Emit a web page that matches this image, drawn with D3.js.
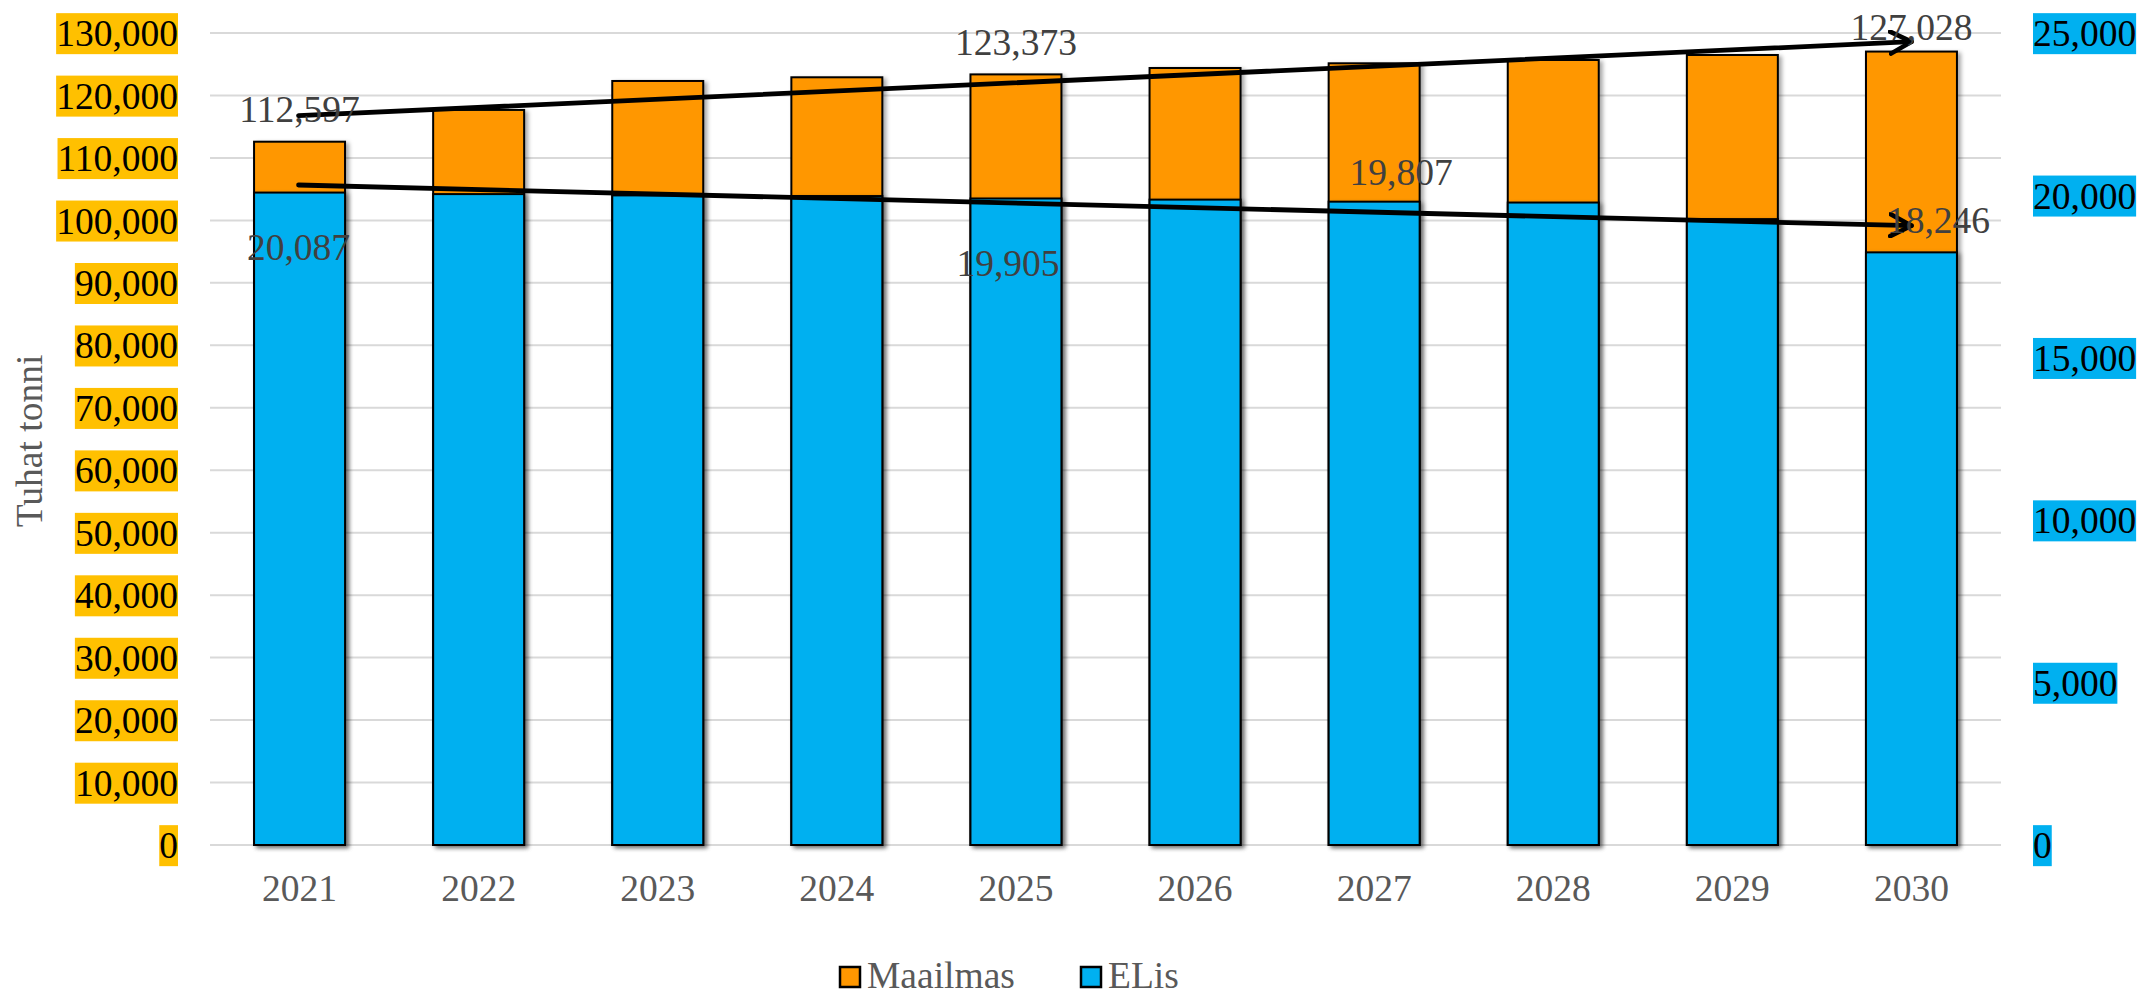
<!DOCTYPE html>
<html>
<head>
<meta charset="utf-8">
<script src="https://cdn.jsdelivr.net/npm/d3@7"></script>
<style>
  html, body { margin: 0; padding: 0; background: #fff; }
  svg { display: block; }
  text { font-family: "Liberation Serif", "Times New Roman", serif; }
</style>
</head>
<body>
<svg id="chart" width="2141" height="994"></svg>
<script>
// ---- DATA ----
const years = ["2021","2022","2023","2024","2025","2026","2027","2028","2029","2030"];
const worldValues = [112597, 117680, 122320, 122910, 123373, 124400, 125150, 125680, 126480, 127028]; // Maailmas (left axis)
const euValues = [20087, 20040, 20000, 19980, 19905, 19870, 19807, 19780, 19270, 18246];             // ELis (right axis)
const leftTicks = [0,10000,20000,30000,40000,50000,60000,70000,80000,90000,100000,110000,120000,130000];
const rightTicks = [0,5000,10000,15000,20000,25000];
const seriesNames = ["Maailmas","ELis"];
const yAxisTitle = "Tuhat tonni";
// labelled points
const worldLabelYears = ["2021","2025","2030"];
const euLabelYears = ["2021","2025","2027","2030"];
// trend arrows (data units): start/end year and values
const worldTrend = { from: "2021", to: "2030", v0: 116760, v1: 128610 };
const euTrend = { from: "2021", to: "2030", v0: 20320, v1: 19067 };

// ---- LAYOUT ----
const plot = { left: 210, right: 2001, top: 33, bottom: 845 };
const colors = { world: "#FF9700", eu: "#00B0F0", leftBg: "#FFC000", rightBg: "#00B0F0",
                 grid: "#D9D9D9", label: "#404040", axisText: "#595959" };
const FS = 37.5;
// label offsets (px) relative to bar centre/top
const worldLabelOffset = { "2021": [0, -20], "2025": [0, -19], "2030": [0, -12] };
const euLabelOffset = { "2021": [-1, 67], "2025": [-8, 78], "2027": [27, -17], "2030": [27, -19] };

const svg = d3.select("#chart");
const defs = svg.append("defs");
const f = defs.append("filter").attr("id","shadow").attr("x","-20%").attr("y","-5%").attr("width","150%").attr("height","115%");
f.append("feDropShadow").attr("dx",3).attr("dy",2).attr("stdDeviation",2.2).attr("flood-color","#000").attr("flood-opacity",0.35);
defs.append("marker").attr("id","arrow").attr("markerUnits","userSpaceOnUse")
  .attr("viewBox","0 0 26 26").attr("refX",23).attr("refY",13)
  .attr("markerWidth",26).attr("markerHeight",26).attr("orient","auto")
  .append("path").attr("d","M2,2 L23,13 L2,24").attr("fill","none")
  .attr("stroke","#000").attr("stroke-width",4.6).attr("stroke-linecap","round").attr("stroke-linejoin","round");

const x = d3.scaleBand().domain(years).range([plot.left, plot.right]).paddingInner(0.492).paddingOuter(0.246);
const yL = d3.scaleLinear().domain([0,130000]).range([plot.bottom, plot.top]);
const yR = d3.scaleLinear().domain([0,25000]).range([plot.bottom, plot.top]);
const fmt = d3.format(",");
const cx = d => x(d) + x.bandwidth()/2;

// gridlines
svg.append("g").selectAll("line").data(leftTicks).join("line")
  .attr("x1", plot.left).attr("x2", plot.right)
  .attr("y1", d => yL(d)).attr("y2", d => yL(d))
  .attr("stroke", colors.grid).attr("stroke-width", 2);

// left axis
const gL = svg.append("g").attr("transform", `translate(${plot.left},0)`)
  .call(d3.axisLeft(yL).tickValues(leftTicks).tickFormat(fmt).tickSize(0).tickPadding(32));
gL.select(".domain").remove();
gL.selectAll("text").attr("font-size", FS).attr("font-family","Liberation Serif").attr("fill","#000").attr("dy","0.3375em");

// right axis
const gR = svg.append("g").attr("transform", `translate(${plot.right},0)`)
  .call(d3.axisRight(yR).tickValues(rightTicks).tickFormat(fmt).tickSize(0).tickPadding(32));
gR.select(".domain").remove();
gR.selectAll("text").attr("font-size", FS).attr("font-family","Liberation Serif").attr("fill","#000").attr("dy","0.3375em");

function addBg(g, color) {
  g.selectAll(".tick").each(function() {
    const t = d3.select(this).select("text");
    const bb = t.node().getBBox();
    d3.select(this).insert("rect","text").attr("x", bb.x).attr("y", bb.y)
      .attr("width", bb.width).attr("height", bb.height).attr("fill", color);
  });
}
addBg(gL, colors.leftBg);
addBg(gR, colors.rightBg);

// x axis labels
const gX = svg.append("g").attr("transform", `translate(0,${plot.bottom})`)
  .call(d3.axisBottom(x).tickSize(0).tickPadding(0));
gX.select(".domain").remove();
gX.selectAll("text").attr("font-size", FS).attr("font-family","Liberation Serif")
  .attr("fill", colors.axisText).attr("dy", null).attr("y", 900.5 - plot.bottom);

// bars
svg.append("g").selectAll("rect").data(years.map((y,i)=>({y, v: worldValues[i]}))).join("rect")
  .attr("x", d => x(d.y)).attr("width", x.bandwidth())
  .attr("y", d => yL(d.v)).attr("height", d => yL(0) - yL(d.v))
  .attr("fill", colors.world).attr("stroke","#000").attr("stroke-width",2).attr("filter","url(#shadow)");
svg.append("g").selectAll("rect").data(years.map((y,i)=>({y, v: euValues[i]}))).join("rect")
  .attr("x", d => x(d.y)).attr("width", x.bandwidth())
  .attr("y", d => yR(d.v)).attr("height", d => yR(0) - yR(d.v))
  .attr("fill", colors.eu).attr("stroke","#000").attr("stroke-width",2).attr("filter","url(#shadow)");

// trend arrows
function arrow(tr, scale) {
  svg.append("line")
    .attr("x1", cx(tr.from) - 1).attr("y1", scale(tr.v0))
    .attr("x2", cx(tr.to)).attr("y2", scale(tr.v1))
    .attr("stroke","#000").attr("stroke-width",4.8).attr("stroke-linecap","round")
    .attr("marker-end","url(#arrow)");
}
arrow(worldTrend, yL);
arrow(euTrend, yR);

// data labels
const gLab = svg.append("g").attr("font-size", FS).attr("fill", colors.label).attr("text-anchor","middle");
worldLabelYears.forEach(yr => {
  const i = years.indexOf(yr), o = worldLabelOffset[yr];
  gLab.append("text").attr("x", cx(yr) + o[0]).attr("y", yL(worldValues[i]) + o[1]).text(fmt(worldValues[i]));
});
euLabelYears.forEach(yr => {
  const i = years.indexOf(yr), o = euLabelOffset[yr];
  gLab.append("text").attr("x", cx(yr) + o[0]).attr("y", yR(euValues[i]) + o[1]).text(fmt(euValues[i]));
});

// y axis title
svg.append("text").attr("transform","translate(42,441) rotate(-90)")
  .attr("text-anchor","middle").attr("font-size", FS).attr("fill", colors.axisText).text(yAxisTitle);

// legend
const legend = svg.append("g");
const legItems = [
  { name: seriesNames[0], color: colors.world, sx: 839 },
  { name: seriesNames[1], color: colors.eu, sx: 1080 }
];
legItems.forEach(it => {
  legend.append("rect").attr("x", it.sx + 1).attr("y", 967).attr("width", 20).attr("height", 20)
    .attr("fill", it.color).attr("stroke","#000").attr("stroke-width",2.5);
  legend.append("text").attr("x", it.sx + 28).attr("y", 987.5).attr("font-size", FS)
    .attr("fill", colors.axisText).text(it.name);
});
</script>
</body>
</html>
